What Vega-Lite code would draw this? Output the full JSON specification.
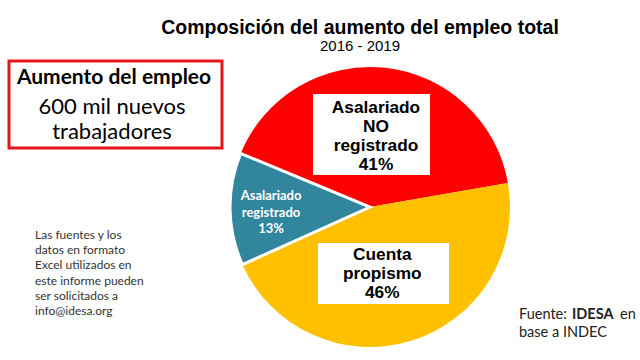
{
  "$schema": "https://vega.github.io/schema/vega-lite/v6.json",
  "width": 640,
  "height": 360,
  "autosize": {"type": "fit", "contains": "padding"},
  "padding": 0,
  "background": "white",
  "view": {"stroke": null},
  "data": {"values": [
    {"categoria": "Asalariado NO registrado", "linea": "Asalariado\nNO\nregistrado", "pct": 41, "orden": 1},
    {"categoria": "Cuenta propismo", "linea": "Cuenta\npropismo", "pct": 46, "orden": 2},
    {"categoria": "Asalariado registrado", "linea": "Asalariado\nregistrado", "pct": 13, "orden": 3}
  ]},
  "transform": [{"calculate": "datum.linea + '\\n' + datum.pct + '%'", "as": "etiqueta"}],
  "layer": [
    {
      "mark": {"type": "arc", "outerRadius": 140, "stroke": "white"},
      "encoding": {
        "x": {"value": 370},
        "y": {"value": 207},
        "theta": {"field": "pct", "type": "quantitative", "stack": true, "scale": {"range": [5.105, 11.388]}},
        "order": {"field": "orden", "type": "quantitative"},
        "color": {"field": "categoria", "type": "nominal", "legend": null,
          "scale": {"domain": ["Asalariado NO registrado", "Cuenta propismo", "Asalariado registrado"], "range": ["#FF0000", "#FFC000", "#31859C"]}},
        "strokeWidth": {"condition": {"test": "datum.orden == 3", "value": 3}, "value": 0}
      }
    },
    {
      "data": {"values": [{}]},
      "mark": {"type": "rect", "fill": "white"},
      "encoding": {"x": {"value": 313}, "x2": {"value": 430}, "y": {"value": 94}, "y2": {"value": 175}}
    },
    {
      "data": {"values": [{}]},
      "mark": {"type": "rect", "fill": "white"},
      "encoding": {"x": {"value": 318}, "x2": {"value": 449}, "y": {"value": 243}, "y2": {"value": 304}}
    },
    {
      "mark": {"type": "text", "radius": 73, "lineBreak": "\n", "lineHeight": 19, "font": "Liberation Sans", "fontWeight": "bold", "fontSize": 17.3, "color": "black", "align": "center", "baseline": "middle", "dx": -2, "dy": -26.5},
      "encoding": {
        "x": {"value": 370},
        "y": {"value": 207},
        "theta": {"field": "pct", "type": "quantitative", "stack": true, "scale": {"range": [5.105, 11.388]}},
        "order": {"field": "orden", "type": "quantitative"},
        "text": {"condition": {"test": "datum.orden != 1", "value": ""}, "field": "etiqueta"}
      }
    },
    {
      "mark": {"type": "text", "radius": 69, "lineBreak": "\n", "lineHeight": 19, "font": "Liberation Sans", "fontWeight": "bold", "fontSize": 17.3, "color": "black", "align": "center", "baseline": "middle", "dx": -8, "dy": -18},
      "encoding": {
        "x": {"value": 370},
        "y": {"value": 207},
        "theta": {"field": "pct", "type": "quantitative", "stack": true, "scale": {"range": [5.105, 11.388]}},
        "order": {"field": "orden", "type": "quantitative"},
        "text": {"condition": {"test": "datum.orden != 2", "value": ""}, "field": "etiqueta"}
      }
    },
    {
      "mark": {"type": "text", "radius": 100, "lineBreak": "\n", "lineHeight": 16.5, "font": "Lato", "fontWeight": "bold", "fontSize": 13, "color": "white", "align": "center", "baseline": "middle", "dx": 1, "dy": -12.5},
      "encoding": {
        "x": {"value": 370},
        "y": {"value": 207},
        "theta": {"field": "pct", "type": "quantitative", "stack": true, "scale": {"range": [5.105, 11.388]}},
        "order": {"field": "orden", "type": "quantitative"},
        "text": {"condition": {"test": "datum.orden != 3", "value": ""}, "field": "etiqueta"}
      }
    },
    {
      "data": {"values": [{}]},
      "mark": {"type": "text", "text": "Composición del aumento del empleo total", "font": "Liberation Sans", "fontWeight": "bold", "fontSize": 19.5, "color": "black", "align": "center", "baseline": "middle"},
      "encoding": {"x": {"value": 360}, "y": {"value": 28}}
    },
    {
      "data": {"values": [{}]},
      "mark": {"type": "text", "text": "2016 - 2019", "font": "Liberation Sans", "fontSize": 15, "color": "black", "align": "center", "baseline": "middle"},
      "encoding": {"x": {"value": 360}, "y": {"value": 46}}
    },
    {
      "data": {"values": [{}]},
      "mark": {"type": "rect", "fill": null, "stroke": "#E3161B", "strokeWidth": 3},
      "encoding": {"x": {"value": 9}, "x2": {"value": 222}, "y": {"value": 61}, "y2": {"value": 148}}
    },
    {
      "data": {"values": [{}]},
      "mark": {"type": "text", "text": "Aumento del empleo", "font": "Lato", "fontWeight": "bold", "fontSize": 21, "color": "black", "align": "center", "baseline": "middle"},
      "encoding": {"x": {"value": 114}, "y": {"value": 78}}
    },
    {
      "data": {"values": [{}]},
      "mark": {"type": "text", "text": ["600 mil nuevos", "trabajadores"], "lineHeight": 25, "font": "Lato", "fontSize": 22, "color": "black", "align": "center", "baseline": "middle"},
      "encoding": {"x": {"value": 112}, "y": {"value": 107}}
    },
    {
      "data": {"values": [{}]},
      "mark": {"type": "text", "text": ["Las fuentes y los", "datos en formato", "Excel utilizados en", "este informe pueden", "ser solicitados a", "info@idesa.org"], "lineHeight": 15.2, "font": "Lato", "fontSize": 12, "color": "#333333", "align": "left", "baseline": "middle"},
      "encoding": {"x": {"value": 35}, "y": {"value": 235}}
    },
    {
      "data": {"values": [{}]},
      "mark": {"type": "text", "text": "Fuente:", "font": "Lato", "fontSize": 14.5, "color": "#222222", "align": "left", "baseline": "middle"},
      "encoding": {"x": {"value": 519}, "y": {"value": 315}}
    },
    {
      "data": {"values": [{}]},
      "mark": {"type": "text", "text": "IDESA", "font": "Lato", "fontWeight": "bold", "fontSize": 14.5, "color": "#222222", "align": "left", "baseline": "middle"},
      "encoding": {"x": {"value": 572}, "y": {"value": 315}}
    },
    {
      "data": {"values": [{}]},
      "mark": {"type": "text", "text": "en", "font": "Lato", "fontSize": 14.5, "color": "#222222", "align": "left", "baseline": "middle"},
      "encoding": {"x": {"value": 620}, "y": {"value": 315}}
    },
    {
      "data": {"values": [{}]},
      "mark": {"type": "text", "text": "base a INDEC", "font": "Lato", "fontSize": 14.5, "color": "#222222", "align": "left", "baseline": "middle"},
      "encoding": {"x": {"value": 519}, "y": {"value": 333}}
    }
  ]
}
